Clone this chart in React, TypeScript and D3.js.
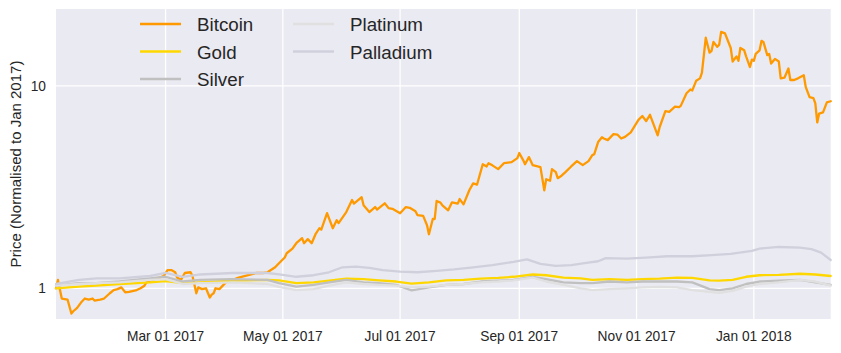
import React from 'react';
import * as d3 from 'd3';

type Pt = [string, number];

// Prices normalised to Jan 2017
const bitcoin: Pt[] = [
  ['2017-01-03', 1.0], ['2017-01-04', 1.1], ['2017-01-06', 0.89], ['2017-01-09', 0.88],
  ['2017-01-11', 0.75], ['2017-01-12', 0.77], ['2017-01-14', 0.8], ['2017-01-16', 0.85],
  ['2017-01-18', 0.89], ['2017-01-20', 0.88], ['2017-01-22', 0.89], ['2017-01-23', 0.87],
  ['2017-01-26', 0.88], ['2017-01-28', 0.89], ['2017-01-31', 0.945], ['2017-02-02', 0.98],
  ['2017-02-04', 0.99], ['2017-02-06', 1.01], ['2017-02-08', 0.955], ['2017-02-10', 0.96],
  ['2017-02-14', 0.98], ['2017-02-16', 1.0], ['2017-02-18', 1.03], ['2017-02-19', 1.07],
  ['2017-02-22', 1.1], ['2017-02-25', 1.12], ['2017-02-28', 1.15], ['2017-03-02', 1.23],
  ['2017-03-04', 1.23], ['2017-03-06', 1.2], ['2017-03-07', 1.13], ['2017-03-09', 1.1],
  ['2017-03-11', 1.19], ['2017-03-14', 1.2], ['2017-03-15', 1.15], ['2017-03-17', 0.945],
  ['2017-03-18', 1.01], ['2017-03-20', 0.99], ['2017-03-22', 1.0], ['2017-03-24', 0.9],
  ['2017-03-25', 0.93], ['2017-03-26', 0.945], ['2017-03-27', 1.0], ['2017-03-29', 0.99],
  ['2017-04-01', 1.06], ['2017-04-03', 1.1], ['2017-04-06', 1.11], ['2017-04-08', 1.13],
  ['2017-04-13', 1.16], ['2017-04-17', 1.19], ['2017-04-21', 1.19], ['2017-04-23', 1.2],
  ['2017-04-27', 1.27], ['2017-04-29', 1.33], ['2017-05-02', 1.42], ['2017-05-03', 1.49],
  ['2017-05-06', 1.57], ['2017-05-08', 1.67], ['2017-05-11', 1.77], ['2017-05-12', 1.67],
  ['2017-05-14', 1.75], ['2017-05-16', 1.67], ['2017-05-18', 1.85], ['2017-05-20', 1.98],
  ['2017-05-21', 1.95], ['2017-05-24', 2.35], ['2017-05-27', 1.98], ['2017-05-29', 2.17],
  ['2017-05-30', 2.1], ['2017-06-03', 2.38], ['2017-06-06', 2.73], ['2017-06-07', 2.62],
  ['2017-06-11', 2.82], ['2017-06-12', 2.57], ['2017-06-15', 2.38], ['2017-06-18', 2.52],
  ['2017-06-19', 2.45], ['2017-06-23', 2.63], ['2017-06-25', 2.49], ['2017-06-27', 2.47],
  ['2017-07-01', 2.35], ['2017-07-04', 2.52], ['2017-07-06', 2.5], ['2017-07-09', 2.4],
  ['2017-07-10', 2.3], ['2017-07-13', 2.28], ['2017-07-15', 2.05], ['2017-07-16', 1.85],
  ['2017-07-18', 2.2], ['2017-07-19', 2.2], ['2017-07-20', 2.7], ['2017-07-22', 2.65],
  ['2017-07-23', 2.57], ['2017-07-26', 2.43], ['2017-07-28', 2.66], ['2017-07-31', 2.62],
  ['2017-08-01', 2.76], ['2017-08-03', 2.6], ['2017-08-06', 3.05], ['2017-08-08', 3.3],
  ['2017-08-10', 3.25], ['2017-08-13', 4.1], ['2017-08-15', 4.0], ['2017-08-16', 4.15],
  ['2017-08-18', 4.05], ['2017-08-21', 3.88], ['2017-08-24', 4.15], ['2017-08-28', 4.2],
  ['2017-08-31', 4.4], ['2017-09-01', 4.66], ['2017-09-03', 4.3], ['2017-09-04', 4.1],
  ['2017-09-06', 4.45], ['2017-09-08', 4.06], ['2017-09-12', 3.97], ['2017-09-14', 3.05],
  ['2017-09-15', 3.46], ['2017-09-17', 3.4], ['2017-09-18', 3.88], ['2017-09-20', 3.75],
  ['2017-09-21', 3.5], ['2017-09-23', 3.6], ['2017-09-25', 3.75], ['2017-09-28', 4.0],
  ['2017-10-01', 4.25], ['2017-10-04', 4.06], ['2017-10-07', 4.25], ['2017-10-09', 4.55],
  ['2017-10-10', 4.6], ['2017-10-12', 5.28], ['2017-10-14', 5.58], ['2017-10-15', 5.5],
  ['2017-10-17', 5.4], ['2017-10-20', 5.78], ['2017-10-22', 5.75], ['2017-10-24', 5.5],
  ['2017-10-26', 5.6], ['2017-10-29', 5.9], ['2017-11-02', 6.8], ['2017-11-04', 7.1],
  ['2017-11-06', 6.7], ['2017-11-08', 7.2], ['2017-11-10', 6.4], ['2017-11-12', 5.7],
  ['2017-11-13', 6.25], ['2017-11-16', 7.5], ['2017-11-18', 7.45], ['2017-11-21', 7.9],
  ['2017-11-23', 7.85], ['2017-11-24', 7.97], ['2017-11-27', 9.2], ['2017-11-29', 9.6],
  ['2017-11-30', 9.5], ['2017-12-02', 10.6], ['2017-12-04', 10.9], ['2017-12-05', 11.6],
  ['2017-12-07', 17.3], ['2017-12-09', 14.6], ['2017-12-10', 14.9], ['2017-12-11', 16.5],
  ['2017-12-13', 15.6], ['2017-12-14', 16.0], ['2017-12-15', 18.5], ['2017-12-17', 18.2],
  ['2017-12-20', 15.4], ['2017-12-21', 13.2], ['2017-12-23', 14.0], ['2017-12-24', 13.3],
  ['2017-12-25', 15.4], ['2017-12-27', 15.0], ['2017-12-28', 14.0], ['2017-12-30', 12.4],
  ['2017-12-31', 13.5], ['2018-01-01', 13.3], ['2018-01-02', 14.4], ['2018-01-04', 15.0],
  ['2018-01-05', 16.7], ['2018-01-06', 16.5], ['2018-01-08', 14.2], ['2018-01-09', 14.4],
  ['2018-01-10', 12.9], ['2018-01-12', 13.6], ['2018-01-14', 13.2], ['2018-01-15', 10.9],
  ['2018-01-17', 11.0], ['2018-01-19', 12.2], ['2018-01-20', 10.7], ['2018-01-22', 10.7],
  ['2018-01-24', 10.9], ['2018-01-27', 11.3], ['2018-01-28', 9.9], ['2018-01-30', 8.8],
  ['2018-02-01', 8.7], ['2018-02-02', 8.2], ['2018-02-03', 6.6], ['2018-02-04', 7.3],
  ['2018-02-06', 7.4], ['2018-02-08', 8.3], ['2018-02-10', 8.4],
];

const metalDates = [
  '2017-01-03', '2017-01-15', '2017-01-24', '2017-02-05', '2017-02-21', '2017-03-01',
  '2017-03-10', '2017-03-19', '2017-04-05', '2017-04-23', '2017-04-29', '2017-05-08',
  '2017-05-17', '2017-05-25', '2017-06-03', '2017-06-12', '2017-06-20', '2017-06-29',
  '2017-07-07', '2017-07-16', '2017-07-25', '2017-08-03', '2017-08-12', '2017-08-21',
  '2017-08-29', '2017-09-08', '2017-09-15', '2017-09-24', '2017-10-03', '2017-10-09',
  '2017-10-18', '2017-10-27', '2017-11-04', '2017-11-13', '2017-11-22', '2017-11-30',
  '2017-12-09', '2017-12-14', '2017-12-21', '2017-12-28', '2018-01-04', '2018-01-14',
  '2018-01-25', '2018-02-02', '2018-02-10',
];

const gold = [
  1.0, 1.02, 1.03, 1.05, 1.07, 1.085, 1.06, 1.07, 1.09, 1.1, 1.095, 1.06,
  1.07, 1.09, 1.117, 1.11, 1.095, 1.08, 1.055, 1.07, 1.095, 1.1, 1.117, 1.125,
  1.14, 1.17, 1.16, 1.13, 1.12, 1.1, 1.11, 1.1, 1.11, 1.117, 1.13, 1.125,
  1.095, 1.09, 1.1, 1.14, 1.16, 1.165, 1.18, 1.17, 1.15,
];

const silver = [
  1.03, 1.06, 1.06, 1.08, 1.12, 1.14, 1.08, 1.1, 1.11, 1.1, 1.06, 1.02,
  1.04, 1.07, 1.1, 1.07, 1.06, 1.04, 0.977, 1.01, 1.04, 1.05, 1.08, 1.09,
  1.1, 1.14, 1.11, 1.07, 1.06, 1.06, 1.08, 1.07, 1.08, 1.08, 1.08, 1.07,
  0.99, 0.98, 1.0, 1.05, 1.08, 1.09, 1.1, 1.07, 1.04,
];

const platinum = [
  1.03, 1.05, 1.06, 1.07, 1.1, 1.11, 1.05, 1.06, 1.07, 1.05, 1.015, 0.98,
  0.99, 1.03, 1.07, 1.05, 1.04, 1.03, 1.01, 1.02, 1.04, 1.05, 1.07, 1.08,
  1.095, 1.13, 1.08, 1.04, 1.0, 0.98, 0.99, 1.0, 1.01, 1.015, 1.01, 0.98,
  0.96, 0.95, 0.97, 1.02, 1.05, 1.07, 1.1, 1.08, 1.03,
];

const palladium: Pt[] = [
  ['2017-01-03', 1.05], ['2017-01-15', 1.1], ['2017-01-24', 1.12], ['2017-02-05', 1.12],
  ['2017-02-21', 1.15], ['2017-03-01', 1.19], ['2017-03-10', 1.14], ['2017-03-19', 1.17],
  ['2017-04-05', 1.19], ['2017-04-23', 1.19], ['2017-04-29', 1.17], ['2017-05-08', 1.14],
  ['2017-05-17', 1.16], ['2017-05-25', 1.2], ['2017-06-01', 1.27], ['2017-06-08', 1.28],
  ['2017-06-15', 1.26], ['2017-06-22', 1.23], ['2017-07-01', 1.21], ['2017-07-10', 1.2],
  ['2017-07-20', 1.22], ['2017-07-29', 1.24], ['2017-08-08', 1.27], ['2017-08-18', 1.3],
  ['2017-08-29', 1.35], ['2017-09-05', 1.39], ['2017-09-12', 1.32], ['2017-09-20', 1.29],
  ['2017-09-28', 1.3], ['2017-10-05', 1.33], ['2017-10-12', 1.36], ['2017-10-16', 1.41],
  ['2017-10-27', 1.4], ['2017-11-08', 1.42], ['2017-11-17', 1.44], ['2017-11-30', 1.44],
  ['2017-12-10', 1.46], ['2017-12-20', 1.48], ['2017-12-31', 1.53], ['2018-01-04', 1.57],
  ['2018-01-14', 1.6], ['2018-01-25', 1.59], ['2018-01-31', 1.56], ['2018-02-05', 1.5],
  ['2018-02-10', 1.38],
];

const xTickLabels = ['2017-03-01', '2017-05-01', '2017-07-01', '2017-09-01', '2017-11-01', '2018-01-01'];
const yTicks = [1, 10];

const W = 841;
const H = 353;
const margin = {top: 9, right: 10, bottom: 34, left: 56};
const font = '"Liberation Sans", Arial, sans-serif';

const parse = d3.timeParse('%Y-%m-%d');
const fmt = d3.timeFormat('%b %d %Y');

const App = () => {
  const pw = 830.7 - margin.left;
  const ph = H - margin.bottom - margin.top;

  const toSeries = (pts: Pt[]) => pts.map(([d, v]) => ({date: parse(d) as Date, v}));
  const zip = (vals: number[]) => toSeries(metalDates.map((d, i) => [d, vals[i]] as Pt));

  const series = [
    {name: 'Bitcoin', color: '#ff9900', data: toSeries(bitcoin)},
    {name: 'Gold', color: '#ffd700', data: zip(gold)},
    {name: 'Silver', color: '#c0c0c0', data: zip(silver)},
    {name: 'Platinum', color: '#e0e0e0', data: zip(platinum)},
    {name: 'Palladium', color: '#cfd0dc', data: toSeries(palladium)},
  ];

  const x = d3.scaleTime()
    .domain([parse('2017-01-03') as Date, parse('2018-02-10') as Date])
    .range([0, pw]);
  const y = d3.scaleLog().domain([0.705, 24]).range([ph, 0]);

  const line = d3.line<{date: Date; v: number}>()
    .x(d => x(d.date))
    .y(d => y(d.v));

  const legendCols = [0, 153];
  const legendRows = [24, 51.5, 79];

  return (
    <svg width={W} height={H} style={{position: 'absolute', left: 0, top: 0}} fontFamily={font}>
      <rect width={W} height={H} fill="#fff" />
      <g transform={`translate(${margin.left},${margin.top})`}>
        <rect width={pw} height={ph} fill="#eaeaf2" />
        {xTickLabels.map(t => {
          const d = parse(t) as Date;
          return (
            <g key={t} transform={`translate(${x(d)},0)`}>
              <line y1={0} y2={ph} stroke="#fff" strokeWidth={1.25} />
              <text y={ph + 22} textAnchor="middle" fontSize={13.75} fill="#262626">{fmt(d)}</text>
            </g>
          );
        })}
        {yTicks.map(t => (
          <g key={t} transform={`translate(0,${y(t)})`}>
            <line x1={0} x2={pw} stroke="#fff" strokeWidth={1.25} />
            <text x={-10} dy="0.35em" textAnchor="end" fontSize={13.75} fill="#262626">{t}</text>
          </g>
        ))}
        {series.map(s => (
          <path key={s.name} d={line(s.data) || ''} fill="none" stroke={s.color}
            strokeWidth={2.3} strokeLinejoin="round" strokeLinecap="round" />
        ))}
      </g>
      {series.map((s, i) => {
        const col = Math.floor(i / 3);
        const row = i % 3;
        const lx = 140 + legendCols[col];
        const ly = legendRows[row];
        return (
          <g key={s.name}>
            <line x1={lx} x2={lx + 41} y1={ly} y2={ly} stroke={s.color} strokeWidth={2.3} />
            <text x={lx + 57} y={ly + 7} fontSize={18.75} fill="#262626">{s.name}</text>
          </g>
        );
      })}
      <text transform={`translate(21,${margin.top + ph / 2}) rotate(-90)`} textAnchor="middle"
        fontSize={15} fill="#262626">Price (Normalised to Jan 2017)</text>
    </svg>
  );
};

export default App;
